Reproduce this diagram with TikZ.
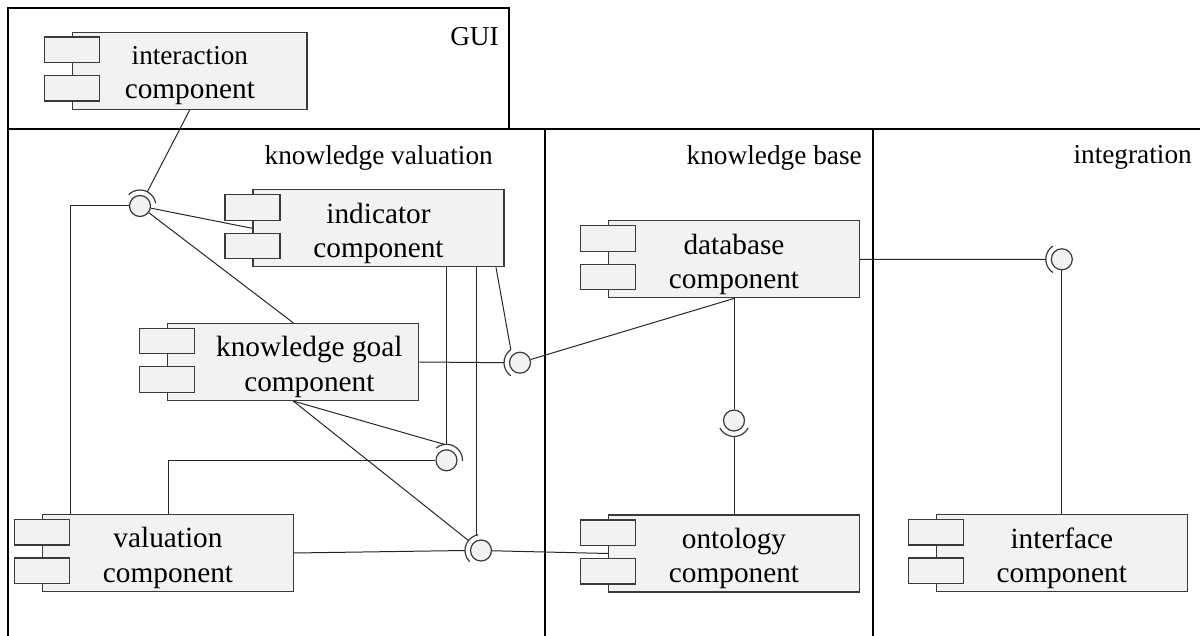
\documentclass[tikz,border=0pt]{standalone}
\usepackage{fontspec}
\setmainfont{Liberation Serif}
\usetikzlibrary{calc}
\definecolor{compfill}{HTML}{F2F2F2}
\definecolor{compline}{HTML}{3A3A3A}
\newcommand\umlcomp[5][251]{%
  \node[body, minimum width=#1] (#2) at (#3) {};
  \draw[port] ($(#2.north west)+(-27.5,5.5)$) rectangle ++(55,25.5);
  \draw[port] ($(#2.north west)+(-27.5,44)$) rectangle ++(55,25.5);
  \node[lbl] (#2-t) at ($(#2.center)+(#4,5.2)$) {#5};
}
\begin{document}
\begin{tikzpicture}[x=1pt,y=-1pt,
 part/.style={line width=2pt, draw=black},
 body/.style={rectangle, draw=compline, fill=compfill, line width=1.2pt, minimum height=77pt, inner sep=0pt},
 port/.style={draw=compline, fill=compfill, line width=1.2pt},
 lbl/.style={align=center, inner sep=0pt, font=\fontsize{29.3}{34.5}\selectfont},
 plabel/.style={anchor=base east, inner sep=0pt, font=\fontsize{27.3}{32}\selectfont},
 conn/.style={line width=1pt, draw=black!85},
 ball/.style={circle, draw=compline, fill=compfill, line width=1.2pt, minimum size=21pt, inner sep=0pt},
 sock/.style={line width=1.2pt, draw=compline},
]
\useasboundingbox (0,0) rectangle (1200,636);

% partitions
\draw[part] (8,636) -- (8,8) -- (509,8) -- (509,129);
\draw[part] (8,129) -- (1200,129);
\draw[part] (545,129) -- (545,636);
\draw[part] (873,129) -- (873,636);

\node[plabel] (lgui) at (499,45.7) {GUI};
\node[plabel] (lkv) at (493,165) {knowledge valuation};
\node[plabel] (lkb) at (862,164.3) {knowledge base};
\node[plabel] (lint) at (1192,163.5) {integration};

% components
\umlcomp[234.3]{int}{189.85,70.65}{0}{\fontsize{27.2}{35}\selectfont interaction\\component}
\umlcomp{ind}{378.5,228.35}{0}{indicator\\component}
\umlcomp{kg}{293.35,362}{16}{knowledge goal\\component}
\umlcomp{db}{734,259.35}{0}{database\\component}
\umlcomp{ont}{734,553.5}{0}{ontology\\component}
\umlcomp{ifc}{1061.8,553}{0}{interface\\component}
\umlcomp{val}{168,553}{0}{valuation\\component}

% balls (provided interfaces)
\node[ball] (b1) at (140,206) {};
\node[ball] (b2) at (520,362.7) {};
\node[ball] (b3) at (446.5,460.3) {};
\node[ball] (b4) at (481,550.5) {};
\node[ball] (b5) at (734,420.5) {};
\node[ball] (b6) at (1061.8,259.3) {};

% sockets (required interfaces)
\draw[sock] ($(b1)+(135:16pt)$) arc[start angle=135, end angle=10, radius=16pt];
\draw[sock] ($(b2)+(125:16pt)$) arc[start angle=125, end angle=235, radius=16pt];
\draw[sock] ($(b3)+(130:16pt)$) arc[start angle=130, end angle=-2, radius=16pt];
\draw[sock] ($(b4)+(100:16pt)$) arc[start angle=100, end angle=225, radius=16pt];
\draw[sock] ($(b5)+(208:16pt)$) arc[start angle=208, end angle=332, radius=16pt];
\draw[sock] ($(b6)+(124:16pt)$) arc[start angle=124, end angle=236, radius=16pt];

% connectors
\coordinate (x70) at (70,0);
\coordinate (s4t) at ($(b4)+(104.5:16pt)$);
\draw[conn] (int.south) -- ($(b1)!16pt!(int.south)$);
\draw[conn] (x70 |- val.north) |- (b1);
\draw[conn] (b1) -- (ind.west);
\draw[conn] (b1) -- (kg.north);
\draw[conn] (kg.east) -- ($(b2)+(180:16pt)$);
\draw[conn] ($(ind.south east)+(-8.6,0)$) -- ($(b2)+(125:16pt)$);
\draw[conn] (b2) -- (db.south);
\draw[conn] (db.south) -- (b5);
\draw[conn] ($(b5)+(270:16pt)$) -- (ont.north);
\draw[conn] (db.east) -- ($(b6)+(180:16pt)$);
\draw[conn] (b6) -- (ifc.north);
\draw[conn] (val.north) |- (b3);
\draw[conn] (ind.south -| b3) -- ($(b3)+(90:16pt)$);
\draw[conn] (kg.south) -- ($(b3)+(97:16pt)$);
\draw[conn] (val.east) -- ($(b4)+(180:16pt)$);
\draw[conn] (kg.south) -- ($(b4)!16pt!(kg.south)$);
\draw[conn] (ind.south -| s4t) -- (s4t);
\draw[conn] (b4) -- (ont.west);
\end{tikzpicture}
\end{document}
